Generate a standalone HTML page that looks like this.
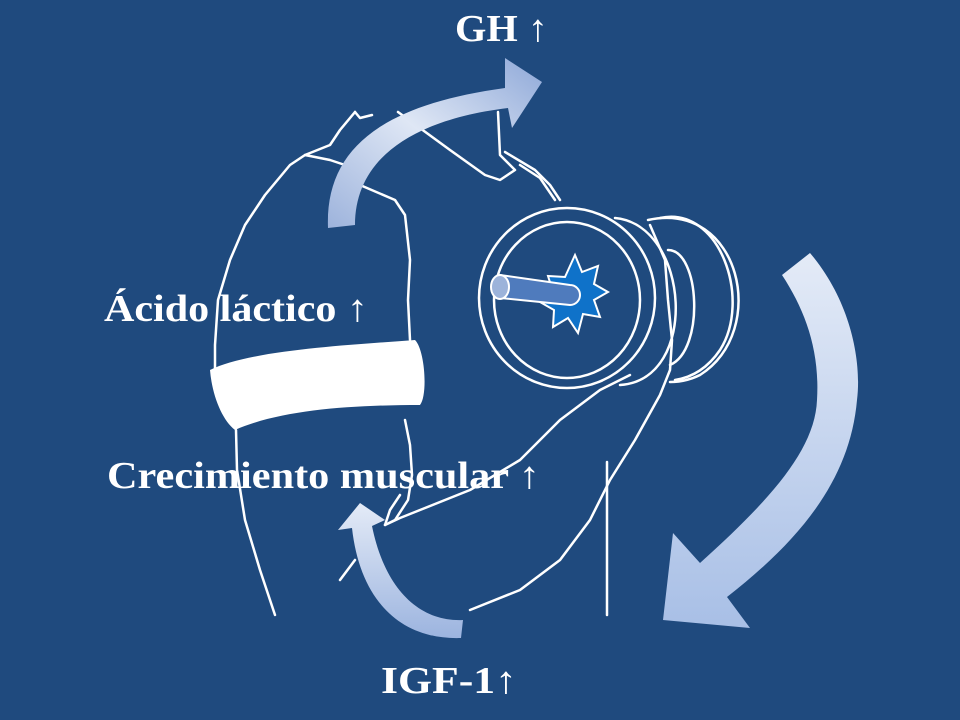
<!DOCTYPE html>
<html><head><style>
html,body{margin:0;padding:0;background:#1f4a7e;}
svg{display:block}
text{font-family:"Liberation Serif",serif;font-weight:bold;fill:#fff}
</style></head><body>
<svg width="960" height="720" viewBox="0 0 960 720">
<defs>
<linearGradient id="g1" x1="0" y1="1" x2="1" y2="0"><stop offset="0" stop-color="#9db3dc"/><stop offset="0.5" stop-color="#dfe7f5"/><stop offset="1" stop-color="#8ea8d8"/></linearGradient>
<linearGradient id="g2" x1="0" y1="0" x2="0" y2="1"><stop offset="0" stop-color="#e4ebf7"/><stop offset="1" stop-color="#9cb4df"/></linearGradient>
<linearGradient id="g3" x1="0" y1="0" x2="0" y2="1"><stop offset="0" stop-color="#e4ebf7"/><stop offset="1" stop-color="#a8bfe6"/></linearGradient>
</defs>
<rect width="960" height="720" fill="#1f4a7e"/>
<g fill="none" stroke="#fff" stroke-width="2.5" stroke-linejoin="round" stroke-linecap="round">
<path d="M355,112 L340,130 L330,145 L305,155 L290,165 L265,195 L245,225 L230,260 L218,300 L215,345 L215,370"/>
<path d="M305,155 L330,160 L345,165"/>
<path d="M355,112 L360,118 L372,115"/>
<path d="M398,112 L450,150 L485,175 L500,180 L515,170 L500,155 L498,112"/>
<path d="M505,152 L535,170 L550,185 L560,200"/>
<path d="M520,165 L540,178 L555,200"/>
<path d="M360,185 L395,200 L405,215 L410,260 L408,300 L410,340"/>
<path d="M236,430 L237,470 L245,520 L260,570 L275,615"/>
<path d="M405,420 L410,445 L412,475 L408,500 L395,520 L385,525 L400,518 L420,510 L470,490 L520,460 L560,420 L600,390 L630,375"/>
<path d="M385,525 L390,510 L400,495"/>
<path d="M470,610 L520,590 L560,560 L590,520 L610,480 L635,440 L660,395 L670,370 L672,340 L668,300 L665,260 L650,225"/>
<path d="M340,580 L355,560"/>
<path d="M607,462 L607,615"/>
<ellipse cx="567" cy="298" rx="88" ry="90"/>
<ellipse cx="567" cy="300" rx="73" ry="78"/>
<path d="M615,218 C690,225 700,380 620,385"/>
<path d="M648,220 C740,200 770,330 700,375 C690,380 680,382 670,382"/>
<path d="M660,218 C720,205 752,300 720,350 C705,372 688,378 675,380"/>
<path d="M668,250 C700,250 705,350 670,365"/>
</g>
<polygon points="575,255 582,272 598,266 594,284 608,292 594,300 600,317 583,314 578,333 568,318 553,327 554,310 540,302 553,292 548,276 565,277" fill="#0f72c9" stroke="#fff" stroke-width="2"/>
<path d="M500,275 L570,285 A10,10 0 0 1 570,305 L500,298 Z" fill="#4f7bbd" stroke="#fff" stroke-width="2"/>
<ellipse cx="500" cy="287" rx="9" ry="12" fill="#9cb3da" stroke="#fff" stroke-width="2"/>
<path d="M210,370 C250,350 350,345 415,340 C425,350 428,395 420,405 C350,405 280,410 235,430 C222,420 212,395 210,370 Z" fill="#fff"/>
<path d="M328,228 C325,150 380,105 505,88 L505,58 L542,82 L512,128 L508,108 C410,120 355,160 355,225 Z" fill="url(#g1)"/>
<path d="M782,275 L810,253 C850,300 862,360 857,400 C850,480 800,540 727,597 L750,628 L663,620 L673,533 L700,563 C770,500 815,450 817,400 C820,350 805,310 782,275 Z" fill="url(#g3)"/>
<path d="M463,620 L461,638 C400,640 360,600 352,528 L338,530 L360,503 L385,520 L372,526 C385,590 420,622 463,620 Z" fill="url(#g2)"/>
<text x="455" y="41" font-size="38" textLength="93" lengthAdjust="spacingAndGlyphs">GH ↑</text>
<text x="104" y="321" font-size="38" textLength="264" lengthAdjust="spacingAndGlyphs">Ácido láctico ↑</text>
<text x="107" y="488" font-size="38" textLength="433" lengthAdjust="spacingAndGlyphs">Crecimiento muscular ↑</text>
<text x="381" y="693" font-size="38" textLength="136" lengthAdjust="spacingAndGlyphs">IGF-1↑</text>
</svg>
</body></html>
